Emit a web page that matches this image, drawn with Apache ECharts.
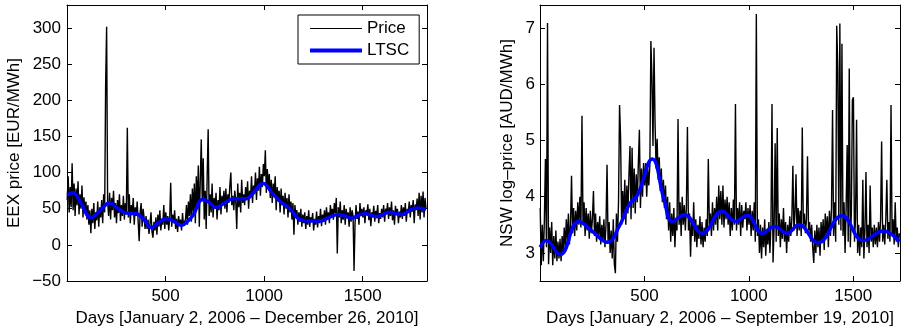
<!DOCTYPE html>
<html>
<head>
<meta charset="utf-8">
<script src="https://cdn.jsdelivr.net/npm/echarts@6/dist/echarts.min.js"></script>
<style>
  html, body { margin: 0; padding: 0; background: #fff; }
  #main { width: 901px; height: 333px; }
</style>
</head>
<body>
<div id="main"></div>
<script>
// price samples are taken every 5 days, starting at day 1
const dayStep = 5

// EEX daily price [EUR/MWh], days 1..1821
const eexPrice = [
  62, 95, 45, 80, 52, 113, 48, 85, 40, 78, 55, 88, 42, 70, 50, 82, 38, 66, 45, 60,
  35, 55, 28, 48, 16, 50, 30, 58, 22, 45, 34, 60, 25, 52, 38, 62, 30, 70, 45, 224,
  302, 60, 40, 72, 35, 65, 48, 75, 38, 58, 30, 62, 44, 70, 33, 55, 40, 68, 35, 58,
  45, 162, 38, 70, 30, 55, 42, 65, 28, 52, 40, 60, 32, 5, 45, 58, 25, 50, 38, 22,
  40, 22, 35, 15, 30, 45, 18, 10, 32, 20, 38, 14, 42, 25, 48, 20, 36, 28, 55, 22,
  45, 28, 40, 20, 38, 86, 25, 42, 30, 48, 22, 36, 18, 40, 28, 35, 20, 44, 26, 32,
  35, 55, 28, 60, 40, 70, 32, 78, 45, 85, 30, 95, 50, 110, 25, 90, 146, 60, 120, 35,
  75, 22, 95, 160, 40, 70, 45, 85, 38, 65, 50, 72, 35, 62, 48, 80, 42, 68, 55, 75,
  50, 78, 45, 70, 58, 82, 100, 55, 68, 48, 75, 60, 22, 85, 52, 72, 45, 90, 58, 70,
  55, 80, 62, 88, 50, 75, 65, 95, 58, 82, 70, 100, 62, 92, 75, 108, 68, 98, 80, 112,
  95, 131, 72, 105, 80, 98, 65, 90, 58, 85, 70, 95, 48, 80, 62, 75, 45, 78, 55, 68,
  42, 72, 50, 65, 38, 70, 45, 60, 35, 58, 14, 55, 40, 48, 28, 45, 32, 50, 25, 42,
  30, 45, 22, 40, 28, 48, 25, 38, 32, 44, 20, 36, 28, 46, 24, 40, 30, 50, 26, 42,
  32, 48, 28, 52, 36, 45, 30, 55, 40, 50, 35, 58, 44, 65, -12, 52, 38, 60, 30, 48,
  35, 55, 28, 50, 38, 45, 25, 52, 32, 48, 40, -36, 30, 55, 36, 46, 28, 58, 40, 50,
  38, 52, 30, 48, 42, 56, 34, 50, 26, 45, 38, 54, 32, 47, 40, 55, 30, 44, 36, 50,
  38, 55, 32, 50, 44, 58, 36, 52, 40, 60, 34, 48, 28, 54, 42, 50, 30, 46, 38, 55,
  36, 52, 40, 58, 32, 50, 44, 60, 38, 55, 46, 62, 30, 56, 48, 64, 40, 72, 35, 68,
  45, 74, 38, 65, 50
]

// EEX long-term seasonal component
const eexLtscDays = [1, 30, 70, 122, 170, 215, 260, 300, 351, 390, 427, 465, 503, 540, 580, 610, 639, 690, 725, 754,
  800, 842, 880, 910, 950, 995, 1040, 1081, 1131, 1182, 1230, 1284, 1330, 1376, 1410, 1444, 1480, 1512, 1545, 1572,
  1610, 1639, 1670, 1698, 1740, 1774, 1821]
const eexLtsc = [69, 72, 58, 38, 48, 58, 50, 44, 43, 35, 24, 31, 36, 33, 27, 32, 41, 63, 58, 52,
  58, 64, 64, 64, 74, 85, 72, 60, 50, 35, 33, 33, 38, 42, 40, 37, 41, 43, 41, 39,
  43, 45, 43, 42, 48, 51, 49]

// NSW daily log-price [AUD/MWh], days 1..1721
const nswPrice = [
  3.8, 2.78, 3.5, 2.85, 3.6, 4.67, 3.1, 7.09, 2.8, 3.45, 3.0, 3.55, 2.78, 3.3, 2.9, 3.4, 2.85, 3.2, 2.9, 3.25,
  2.85, 3.3, 3.0, 3.45, 3.1, 3.6, 3.2, 3.7, 3.15, 3.5, 4.37, 3.35, 3.8, 3.3, 3.75, 3.4, 3.9, 3.5, 4.0, 3.45,
  5.44, 3.5, 3.9, 3.3, 3.8, 3.4, 3.7, 3.25, 3.75, 3.35, 3.6, 4.1, 3.3, 3.7, 3.2, 3.55, 3.3, 3.65, 3.15, 3.5,
  3.2, 3.6, 3.1, 3.5, 4.57, 3.2, 3.55, 3.0, 3.4, 2.9, 3.6, 2.8, 2.64, 3.7, 3.2, 3.9, 5.63, 5.05, 3.5, 4.1,
  3.6, 4.3, 3.5, 4.2, 3.7, 4.4, 4.9, 3.6, 4.87, 3.8, 4.5, 3.7, 4.4, 3.9, 4.6, 5.19, 3.8, 4.5, 4.0, 4.6,
  4.2, 4.6, 4.0, 4.5, 4.2, 4.55, 6.77, 6.12, 4.9, 6.65, 5.3, 4.5, 5.03, 4.3, 4.7, 4.1, 4.5, 3.9, 4.3, 3.8,
  4.2, 3.6, 4.0, 3.4, 3.9, 3.2, 3.7, 3.3, 3.8, 3.1, 3.6, 3.4, 5.38, 3.5, 3.9, 3.3, 4.0, 3.5, 3.85, 3.4,
  3.8, 5.24, 3.4, 3.7, 2.93, 3.6, 3.3, 3.9, 3.2, 3.6, 3.1, 3.5, 3.25, 3.65, 3.15, 3.55, 3.1, 3.45, 3.2, 3.6,
  3.3, 4.67, 3.5, 3.7, 3.3, 3.9, 3.4, 3.8, 3.5, 4.0, 3.4, 4.2, 3.6, 4.1, 3.5, 4.2, 3.45, 3.95, 3.6, 4.0,
  3.5, 3.9, 3.3, 3.8, 3.4, 3.95, 3.5, 5.65, 3.4, 3.8, 3.5, 3.9, 3.3, 3.85, 3.45, 3.75, 3.6, 3.9, 3.4, 3.8,
  3.5, 3.85, 3.3, 3.75, 3.4, 3.9, 3.2, 7.25, 3.3, 3.6, 3.0, 3.5, 2.9, 3.45, 3.1, 3.6, 2.95, 3.4, 3.15, 3.55,
  3.0, 3.5, 5.65, 2.83, 3.45, 4.95, 3.2, 5.22, 3.3, 3.7, 3.1, 3.6, 3.25, 3.8, 3.2, 3.55, 3.0, 3.5, 3.2, 3.65,
  3.3, 3.6, 4.55, 3.4, 3.7, 4.4, 3.3, 3.8, 3.4, 3.75, 3.3, 5.23, 3.5, 3.7, 3.35, 3.6, 4.72, 3.4, 3.55, 3.2,
  3.5, 3.1, 2.82, 3.4, 3.0, 3.5, 3.1, 3.45, 2.95, 3.55, 3.2, 3.6, 3.05, 3.7, 3.3, 3.65, 3.1, 3.75, 3.3, 3.8,
  5.54, 3.3, 3.9, 3.2, 7.04, 6.31, 3.5, 7.08, 3.4, 6.72, 3.3, 3.9, 3.0, 3.8, 4.92, 3.2, 6.28, 3.1, 3.7, 5.72,
  5.77, 3.2, 3.6, 5.37, 3.0, 3.5, 2.95, 3.45, 3.1, 4.3, 2.9, 3.4, 4.44, 3.1, 3.5, 3.0, 4.2, 3.2, 3.45, 3.1,
  3.5, 3.15, 3.45, 3.1, 3.55, 3.2, 3.6, 4.98, 3.2, 3.5, 3.15, 3.6, 4.3, 3.25, 3.55, 3.2, 5.63, 3.3, 3.6, 3.15,
  3.9, 3.2, 3.45, 3.1, 3.35
]

// NSW long-term seasonal component
const nswLtscDays = [1, 29, 96, 185, 252, 323, 379, 427, 467, 538, 594, 634, 690, 777, 872, 936, 992, 1064, 1124, 1183,
  1239, 1331, 1446, 1549, 1645, 1721]
const nswLtsc = [3.1, 3.22, 2.97, 3.56, 3.38, 3.19, 3.47, 3.86, 4.03, 4.67, 3.95, 3.56, 3.68, 3.35, 3.74, 3.56, 3.67, 3.35, 3.47, 3.35,
  3.5, 3.18, 3.66, 3.22, 3.39, 3.2]

// tick labels
const dayTicks = [500, 1000, 1500]
const eexTicks = [-50, 0, 50, 100, 150, 200, 250, 300]
const nswTicks = [3, 4, 5, 6, 7]

const font = 'Liberation Sans'
const sampleDays = arr => arr.map((_, i) => 1 + dayStep * i)
const pairs = (xs, ys) => ys.map((y, i) => [xs[i], y])
const minus = v => String(v).replace('-', '\u2212')

const text = { fontFamily: font, fontSize: 17, color: '#000' }
const line = { onZero: false, lineStyle: { color: '#000', width: 1 } }
const tick = ticks => ({ inside: true, length: 5, customValues: ticks, lineStyle: { color: '#000', width: 1 } })

function xAxes(grid, max, name) {
  return [
    {
      type: 'value', gridIndex: grid, min: 0, max, position: 'bottom',
      name, nameLocation: 'middle', nameGap: 27, nameTextStyle: text,
      axisLine: line, axisTick: tick(dayTicks), splitLine: { show: false },
      axisLabel: { ...text, margin: 7, customValues: dayTicks, formatter: minus }
    },
    {
      type: 'value', gridIndex: grid, min: 0, max, position: 'top',
      axisLine: line, axisTick: tick(dayTicks), splitLine: { show: false }, axisLabel: { show: false }
    }
  ]
}

function yAxes(grid, min, max, ticks, name, gap, margin) {
  return [
    {
      type: 'value', gridIndex: grid, min, max, position: 'left',
      name, nameLocation: 'middle', nameGap: gap, nameTextStyle: text,
      axisLine: line, axisTick: tick(ticks), splitLine: { show: false },
      axisLabel: { ...text, margin, customValues: ticks, formatter: minus }
    },
    {
      type: 'value', gridIndex: grid, min, max, position: 'right',
      axisLine: line, axisTick: tick(ticks), splitLine: { show: false }, axisLabel: { show: false }
    }
  ]
}

const priceSeries = (name, xi, yi, data) => ({
  name, type: 'line', xAxisIndex: xi, yAxisIndex: yi, data,
  symbol: 'none', silent: true,
  lineStyle: { color: '#000', width: 1.4 }, itemStyle: { color: '#000' }
})
const ltscSeries = (name, xi, yi, data) => ({
  name, type: 'line', xAxisIndex: xi, yAxisIndex: yi, data,
  symbol: 'none', smooth: 0.45, silent: true,
  lineStyle: { color: '#0000ff', width: 3.5 }, itemStyle: { color: '#0000ff' }
})

const chart = echarts.init(document.getElementById('main'))
chart.setOption({
  animation: false,
  backgroundColor: '#fff',
  grid: [
    { left: 67, right: 474, top: 5, bottom: 52 },
    { left: 540, right: 1, top: 5, bottom: 52 }
  ],
  legend: {
    data: [
      { name: 'Price', lineStyle: { width: 1, color: '#000' } },
      { name: 'LTSC', lineStyle: { width: 4, color: '#0000ff' } }
    ],
    orient: 'vertical', left: 298, top: 15,
    padding: [5, 10, 5, 10], itemGap: 5, itemWidth: 52, itemHeight: 16,
    borderColor: '#000', borderWidth: 1, borderRadius: 0,
    itemStyle: { opacity: 0 },
    textStyle: text
  },
  xAxis: [
    ...xAxes(0, 1826, 'Days [January 2, 2006 \u2013 December 26, 2010]'),
    ...xAxes(1, 1724, 'Days [January 2, 2006 \u2013 September 19, 2010]')
  ],
  yAxis: [
    ...yAxes(0, -50, 332, eexTicks, 'EEX price [EUR/MWh]', 44, 6),
    ...yAxes(1, 2.5, 7.41, nswTicks, 'NSW log\u2013price [AUD/MWh]', 24, 5)
  ],
  series: [
    priceSeries('Price', 0, 0, pairs(sampleDays(eexPrice), eexPrice)),
    ltscSeries('LTSC', 0, 0, pairs(eexLtscDays, eexLtsc)),
    priceSeries('Price', 2, 2, pairs(sampleDays(nswPrice), nswPrice)),
    ltscSeries('LTSC', 2, 2, pairs(nswLtscDays, nswLtsc))
  ]
})
</script>
</body>
</html>
